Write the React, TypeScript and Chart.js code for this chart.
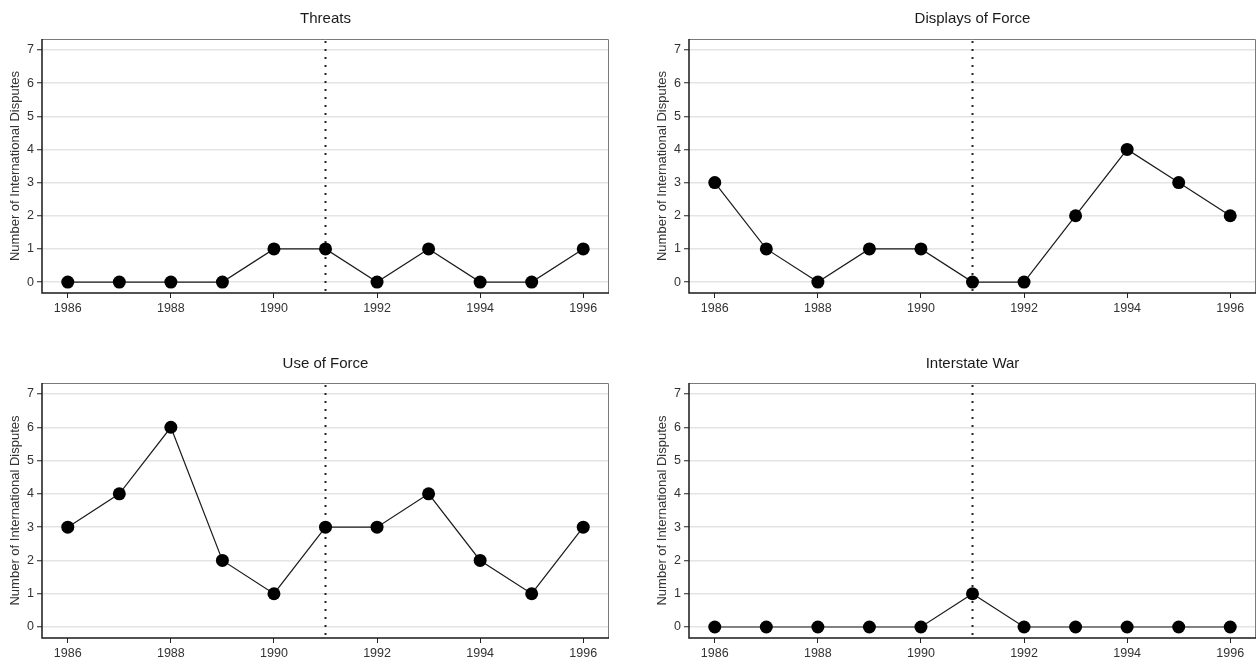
import React, { useEffect, useRef } from "react";
import { Chart, registerables } from "chart.js";

Chart.register(...registerables);

const years = [1986, 1987, 1988, 1989, 1990, 1991, 1992, 1993, 1994, 1995, 1996];
const xTicks = [1986, 1988, 1990, 1992, 1994, 1996];
const yTicks = [0, 1, 2, 3, 4, 5, 6, 7];

const threats = [0, 0, 0, 0, 1, 1, 0, 1, 0, 0, 1];
const displaysOfForce = [3, 1, 0, 1, 1, 0, 0, 2, 4, 3, 2];
const useOfForce = [3, 4, 6, 2, 1, 3, 3, 4, 2, 1, 3];
const interstateWar = [0, 0, 0, 0, 0, 1, 0, 0, 0, 0, 0];

const panelTitles = ["Threats", "Displays of Force", "Use of Force", "Interstate War"];
const yAxisTitle = "Number of International Disputes";
const markerYear = 1991;

const FONT = '"Liberation Sans", Arial, Helvetica, sans-serif';

type Box = {
  left: number;
  top: number;
  width: number;
  height: number;
  padRight: number;
  padTop: number;
  titleY: number;
  xAxisHeight: number;
};

function Panel({ title, values, box }: { title: string; values: number[]; box: Box }) {
  const ref = useRef<HTMLCanvasElement>(null);

  useEffect(() => {
    const framePlugin = {
      id: "frame",
      beforeDatasetsDraw(chart: any) {
        const { ctx, chartArea } = chart;
        const { left, right, top, bottom } = chartArea;
        ctx.save();
        const mx = chart.scales.x.getPixelForValue(markerYear);
        ctx.strokeStyle = "#222";
        ctx.lineWidth = 2;
        ctx.setLineDash([2, 6]);
        ctx.beginPath();
        ctx.moveTo(mx, top + 2);
        ctx.lineTo(mx, bottom);
        ctx.stroke();
        ctx.setLineDash([]);
        ctx.strokeStyle = "#7a7a7a";
        ctx.lineWidth = 1;
        ctx.beginPath();
        ctx.moveTo(left, top + 0.5);
        ctx.lineTo(right - 0.5, top + 0.5);
        ctx.lineTo(right - 0.5, bottom);
        ctx.stroke();
        ctx.strokeStyle = "#1a1a1a";
        ctx.lineWidth = 1.5;
        ctx.beginPath();
        ctx.moveTo(left, top);
        ctx.lineTo(left, bottom);
        ctx.lineTo(right, bottom);
        ctx.stroke();
        ctx.restore();
      },
      afterDraw(chart: any) {
        const { ctx, chartArea } = chart;
        ctx.save();
        ctx.fillStyle = "#1a1a1a";
        ctx.font = `15px ${FONT}`;
        ctx.textAlign = "center";
        ctx.textBaseline = "middle";
        ctx.fillText(title, (chartArea.left + chartArea.right) / 2, box.titleY);
        ctx.restore();
      },
    };

    const chart = new Chart(ref.current as HTMLCanvasElement, {
      type: "line",
      data: {
        datasets: [
          {
            data: years.map((yr, i) => ({ x: yr, y: values[i] })),
            borderColor: "#1a1a1a",
            borderWidth: 1.2,
            pointRadius: 6.5,
            pointBackgroundColor: "#000",
            pointBorderColor: "#000",
            pointBorderWidth: 0,
            tension: 0,
            clip: false,
          } as any,
        ],
      },
      options: {
        responsive: false,
        animation: false,
        devicePixelRatio: 1,
        events: [],
        layout: {
          autoPadding: false,
          padding: { left: 0, right: box.padRight, top: box.padTop, bottom: 0 },
        },
        plugins: {
          legend: { display: false },
          tooltip: { enabled: false },
          title: { display: false },
        },
        scales: {
          x: {
            type: "linear",
            min: 1985.5,
            max: 1996.5,
            afterBuildTicks: (s: any) => {
              s.ticks = xTicks.map((v) => ({ value: v }));
            },
            afterFit: (s: any) => {
              s.height = box.xAxisHeight;
            },
            grid: {
              drawOnChartArea: false,
              drawTicks: true,
              tickLength: 5,
              tickColor: "#222",
              tickWidth: 1,
            },
            border: { display: false },
            ticks: {
              padding: 3,
              color: "#333",
              font: { size: 12.5, family: FONT },
              maxRotation: 0,
              autoSkip: false,
              callback: (v: any) => String(v),
            },
          },
          y: {
            type: "linear",
            min: -0.33,
            max: 7.33,
            afterBuildTicks: (s: any) => {
              s.ticks = yTicks.map((v) => ({ value: v }));
            },
            afterFit: (s: any) => {
              s.width = 42;
            },
            grid: {
              color: "#e4e4e4",
              lineWidth: 1.5,
              tickLength: 5,
              tickColor: "#222",
              tickWidth: 1,
            },
            border: { display: false },
            ticks: {
              padding: 3,
              color: "#333",
              font: { size: 12.5, family: FONT },
              callback: (v: any) => String(v),
            },
            title: {
              display: true,
              text: yAxisTitle,
              color: "#333",
              font: { size: 13, family: FONT },
              padding: { top: 8, bottom: 0 },
            },
          },
        },
      } as any,
      plugins: [framePlugin],
    });
    return () => chart.destroy();
  }, [title, values, box]);

  return (
    <canvas
      ref={ref}
      width={box.width}
      height={box.height}
      style={{ position: "absolute", left: box.left, top: box.top, width: box.width, height: box.height }}
    />
  );
}

const boxes: Box[] = [
  { left: 0, top: 0, width: 628, height: 331, padRight: 19, padTop: 39, titleY: 19, xAxisHeight: 38 },
  { left: 647, top: 0, width: 610, height: 331, padRight: 1, padTop: 39, titleY: 19, xAxisHeight: 38 },
  { left: 0, top: 331, width: 628, height: 331, padRight: 19, padTop: 52, titleY: 33, xAxisHeight: 24 },
  { left: 647, top: 331, width: 610, height: 331, padRight: 1, padTop: 52, titleY: 33, xAxisHeight: 24 },
];

const seriesList = [threats, displaysOfForce, useOfForce, interstateWar];

export default function App() {
  return (
    <div style={{ position: "absolute", left: 0, top: 0, width: 1257, height: 662, background: "#fff", overflow: "hidden" }}>
      {seriesList.map((vals, i) => (
        <Panel key={i} title={panelTitles[i]} values={vals} box={boxes[i]} />
      ))}
    </div>
  );
}
